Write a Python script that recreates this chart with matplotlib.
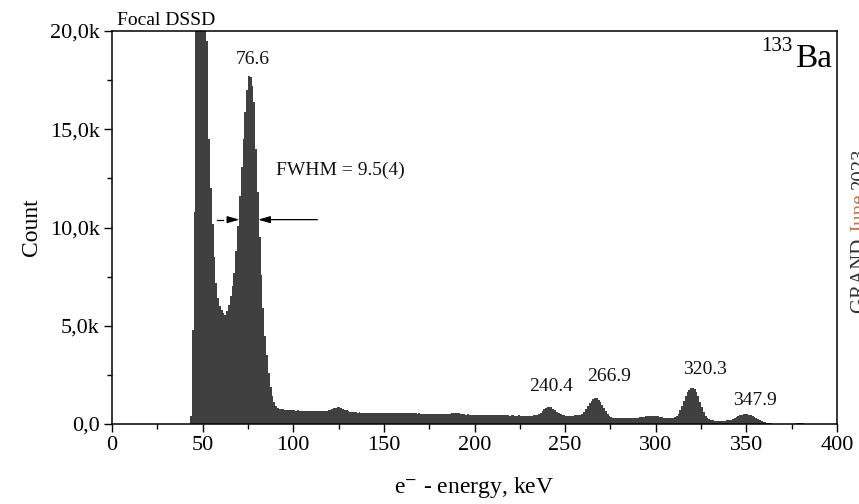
import numpy as np
import matplotlib
matplotlib.use("Agg")
import matplotlib.pyplot as plt

plt.rcParams['font.family'] = ['Liberation Serif', 'DejaVu Serif']
plt.rcParams['mathtext.fontset'] = 'stix'

# ---- data -------------------------------------------------------------
bin_start = 43.0      # keV, left edge of the first bin
bin_width = 1.0       # keV
counts = [
    # 43 - 92 keV
    400, 4800, 10800, 21500, 25000, 27000, 27500, 26000, 23000, 19500,
    14500, 12000, 10200, 8500, 7200, 6400, 6000, 5800, 5650, 5550,
    5750, 6050, 6500, 7000, 7700, 8800, 10100, 11600, 13100, 14500,
    15900, 17000, 17700, 17650, 17200, 16400, 14000, 11800, 9500, 7600,
    5900, 4500, 3500, 2600, 1900, 1400, 1100, 920, 830, 780,
    # 93 - 142 keV
    760, 740, 730, 715, 720, 700, 705, 690, 680, 695,
    675, 670, 685, 660, 670, 655, 665, 650, 660, 645,
    655, 640, 650, 660, 655, 670, 690, 720, 760, 800,
    830, 850, 845, 820, 780, 730, 690, 650, 620, 605,
    590, 600, 585, 590, 575, 585, 570, 580, 575, 565,
    # 143 - 192 keV
    580, 570, 560, 575, 565, 570, 555, 565, 560, 555,
    570, 550, 560, 555, 545, 560, 550, 545, 555, 540,
    550, 545, 535, 550, 540, 530, 540, 525, 520, 510,
    505, 495, 500, 490, 495, 485, 490, 500, 495, 490,
    505, 510, 520, 530, 545, 555, 560, 550, 540, 520,
    # 193 - 242 keV
    505, 490, 480, 485, 475, 480, 470, 475, 465, 470,
    460, 465, 455, 460, 450, 455, 460, 450, 445, 455,
    440, 450, 445, 435, 445, 440, 430, 440, 435, 430,
    425, 435, 430, 420, 430, 425, 420, 430, 425, 435,
    450, 475, 520, 580, 660, 740, 810, 870, 880, 840,
    # 243 - 292 keV
    770, 690, 610, 540, 490, 460, 445, 430, 425, 420,
    430, 425, 435, 440, 450, 470, 520, 610, 740, 900,
    1060, 1190, 1270, 1310, 1300, 1240, 1130, 980, 810, 650,
    520, 420, 360, 320, 300, 290, 285, 290, 280, 285,
    290, 295, 290, 300, 305, 310, 320, 330, 345, 360,
    # 293 - 342 keV
    380, 400, 415, 425, 430, 425, 420, 410, 395, 375,
    350, 330, 315, 300, 295, 300, 310, 340, 400, 520,
    700, 930, 1180, 1420, 1620, 1750, 1810, 1820, 1760, 1620,
    1400, 1130, 850, 600, 420, 300, 230, 195, 180, 170,
    165, 170, 165, 160, 170, 175, 180, 195, 220, 260,
    # 343 - 385 keV
    310, 360, 400, 440, 470, 485, 490, 485, 470, 440,
    400, 350, 300, 250, 200, 160, 120, 90, 65, 45,
    30, 20, 15, 10, 10, 8, 5, 5, 5, 5,
    5, 5, 10, 20, 30, 35, 35, 30, 30, 25,
    15, 5, 5,
]

x_ticks = [0, 50, 100, 150, 200, 250, 300, 350, 400]
y_ticks = [0, 5000, 10000, 15000, 20000]
y_ticklabels = ["0,0", "5,0k", "10,0k", "15,0k", "20,0k"]

peak_labels = ["76.6", "240.4", "266.9", "320.3", "347.9"]
peak_label_x = [77.5, 242.0, 274.5, 327.0, 355.0]
peak_label_y = [18550, 1930, 2440, 2750, 1220]

fwhm_y = 10400
fwhm_left, fwhm_right = 70.3, 80.6

watermark_parts = ["GRAND ", "June ", "2023"]
watermark_colors = ['#333333', '#c07850', '#333333']

# ---- figure -----------------------------------------------------------
fig = plt.figure(figsize=(8.59, 5.04), dpi=100)
ax = fig.add_axes([112/859, 1-424/504, 725/859, 393/504])

edges = bin_start + bin_width * np.arange(len(counts) + 1)
ax.stairs(counts, edges, fill=True, color='#404040', linewidth=0)

ax.set_xlim(0, 400)
ax.set_ylim(0, 20000)
ax.set_xticks(x_ticks)
ax.set_xticklabels([str(v) for v in x_ticks])
ax.set_yticks(y_ticks)
ax.set_yticklabels(y_ticklabels)
ax.set_xticks(np.arange(25, 400, 50), minor=True)
ax.set_yticks(np.arange(2500, 20000, 5000), minor=True)
ax.tick_params(which='major', direction='out', length=6, width=1.0,
               labelsize=16, pad=3)
ax.tick_params(which='minor', direction='out', length=3.5, width=1.0)
for s in ax.spines.values():
    s.set_linewidth(1.1)

ax.set_xlabel(r'e$^{-}$ - energy, keV', fontsize=17, labelpad=14)
ax.set_ylabel('Count', fontsize=17)
ax.yaxis.set_label_coords(-0.096, 0.5)

# peak labels
for lab, px, py in zip(peak_labels, peak_label_x, peak_label_y):
    ax.text(px, py, lab, fontsize=14, ha='center', va='center', color='#111111')

# FWHM annotation
ax.text(90.6, 12900, 'FWHM = 9.5(4)', fontsize=14, ha='left', va='center',
        color='#111111')
ax.plot([57.8, 61.0], [fwhm_y, fwhm_y], color='black', lw=0.9)
ax.annotate('', xy=(fwhm_left, fwhm_y), xytext=(63.5, fwhm_y),
            arrowprops=dict(arrowstyle='-|>,head_length=0.45,head_width=0.13',
                            color='black', lw=0.9, mutation_scale=16,
                            shrinkA=0, shrinkB=0))
ax.annotate('', xy=(fwhm_right, fwhm_y), xytext=(113.3, fwhm_y),
            arrowprops=dict(arrowstyle='-|>,head_length=0.45,head_width=0.13',
                            color='black', lw=0.9, mutation_scale=16,
                            shrinkA=0, shrinkB=0))

# titles / labels
ax.text(0.007, 1.015, 'Focal DSSD', transform=ax.transAxes, fontsize=14,
        ha='left', va='baseline')
ax.text(0.9931, 0.909, 'Ba', transform=ax.transAxes, fontsize=24,
        ha='right', va='baseline')
ax.text(0.9393, 0.950, '133', transform=ax.transAxes, fontsize=15,
        ha='right', va='baseline')

# cut-off watermark on the right edge, laid out part after part
fig.canvas.draw()
renderer = fig.canvas.get_renderer()
y_px = 313.0  # bottom of the watermark, pixels from top
for part, col in zip(watermark_parts, watermark_colors):
    t = fig.text(851/859, 1 - y_px/504, part, rotation=90, fontsize=15,
                 ha='left', va='bottom', color=col)
    bb = t.get_window_extent(renderer)
    y_px -= bb.height

fig.savefig('out.png', dpi=100)
